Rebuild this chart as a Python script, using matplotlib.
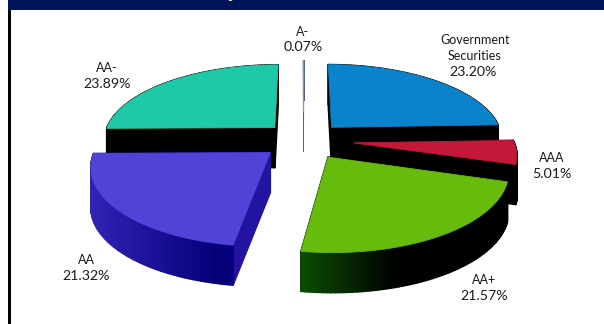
import numpy as np
import matplotlib
matplotlib.use("Agg")
import matplotlib.pyplot as plt
from matplotlib.collections import PolyCollection
from matplotlib.colors import to_rgb
from matplotlib.patches import Polygon, Rectangle

# Credit quality shares, clockwise from the top of the pie
ratings = ["A-", "Government\nSecurities", "AAA", "AA+", "AA", "AA-"]
shares = [0.07, 23.20, 5.01, 21.57, 21.32, 23.89]

# ----------------------------
# Pie geometry (pixels)
# ----------------------------
CX, CY = 303.5, 140.0
RX, RY = 172.0, 75.5
PERSP = 0.149
DEPTH = 40.0

explode = [0.40, 0.24, 0.29, 0.26, 0.25, 0.24]
radius = [0.85, 1.0, 0.93, 1.0, 1.0, 1.0]
top_colors = ["#5aa6d8", "#0a82cc", "#c4173a", "#66bb0c", "#5243d8", "#1fc9a8"]
# side colours: (left end, right end, x range of the fade, radial cut face)
side_colors = [
    ("#55608a", "#55608a", (0, 1), "#55608a"),
    ("#000000", "#000000", (0, 1), "#000000"),
    ("#000000", "#000000", (0, 1), "#000000"),
    ("#0b4a02", "#000000", (305, 395), "#000000"),
    ("#3222b4", "#05007a", (95, 215), "#2214a0"),
    ("#000000", "#000000", (0, 1), "#000000"),
]
side_lw = [0.5, 1.2, 1.2, 1.2, 1.2, 1.2]
draw_order = [1, 5, 0, 2, 4, 3]


def project(u, v):
    p = 1.0 / (1.0 + PERSP * v)
    return CX + RX * u * p, CY - RY * v * p


def wedge_outline(a0, a1, e, r):
    mid = np.radians((a0 + a1) / 2)
    ou, ov = e * np.sin(mid), e * np.cos(mid)
    t = np.radians(np.linspace(a0, a1, 70))
    u = np.r_[ou, ou + r * np.sin(t)]
    v = np.r_[ov, ov + r * np.cos(t)]
    x, y = project(u, v)
    return np.column_stack([x, y])


def fade(c0, c1, rng, x):
    f = np.clip((x - rng[0]) / (rng[1] - rng[0]), 0, 1)
    return tuple(np.array(to_rgb(c0)) * (1 - f) + np.array(to_rgb(c1)) * f)


fig = plt.figure(figsize=(6.04, 3.24), dpi=100)
ax = fig.add_axes([0, 0, 1, 1])
ax.set_xlim(0, 604)
ax.set_ylim(324, 0)
ax.axis("off")

# header band and left rule
ax.add_patch(Rectangle((8, 0), 596, 10, fc="#00145c", ec="none", zorder=1))
ax.add_patch(Rectangle((8, 10), 3, 314, fc="black", ec="none", zorder=1))

# the header text sits above the top edge, only its descenders show
for hx, ch in [(233, "y"), (387, ",")]:
    ax.text(hx, -2, ch, color="white", fontsize=11, fontweight="bold", style="italic",
            family="Open Sans", ha="center", va="baseline", zorder=2)

# ----------------------------
# Wedges
# ----------------------------
fractions = np.array(shares) / np.sum(shares) * 360.0
starts = np.r_[0, np.cumsum(fractions)[:-1]] - fractions[0] / 2

z = 3
for i in draw_order:
    pts = wedge_outline(starts[i], starts[i] + fractions[i], explode[i], radius[i])
    c0, c1, rng, cut = side_colors[i]

    quads, cols = [], []
    closed = np.vstack([pts, pts[0]])
    for k in range(len(pts)):
        a, b = closed[k], closed[k + 1]
        quads.append([a, b, b + [0, DEPTH], a + [0, DEPTH]])
        radial = k == 0 or k == len(pts) - 1
        cols.append(to_rgb(cut) if radial else fade(c0, c1, rng, (a[0] + b[0]) / 2))
    # back faces first so the cut faces stay on top
    order = np.argsort([q[0][1] + q[1][1] for q in quads])
    ax.add_collection(PolyCollection([quads[k] for k in order],
                                     facecolors=[cols[k] for k in order],
                                     edgecolors=[cols[k] for k in order],
                                     linewidths=side_lw[i], zorder=z))
    z += 1
    ax.add_patch(Polygon(pts, closed=True, fc=top_colors[i],
                         ec=top_colors[i], lw=0.6, zorder=z))
    z += 1

# ----------------------------
# Labels: rating name above its share
# ----------------------------
value_pos = [(303, 47), (473, 72), (552, 174), (484, 296), (86, 276), (107, 84)]
for name, val, (lx, ly) in zip(ratings, shares, value_pos):
    ax.text(lx, ly, f"{val:.2f}%", ha="center", va="center", fontsize=10.2,
            family="Lato", color="#1a1a1a", zorder=30)
    ax.text(lx + (2 if "\n" in name else 0), ly - 9.5, name, ha="center", va="bottom",
            fontsize=9, family="Lato", color="#1a1a1a", linespacing=1.45, zorder=30)

fig.savefig("out.png", dpi=100, facecolor="white")
